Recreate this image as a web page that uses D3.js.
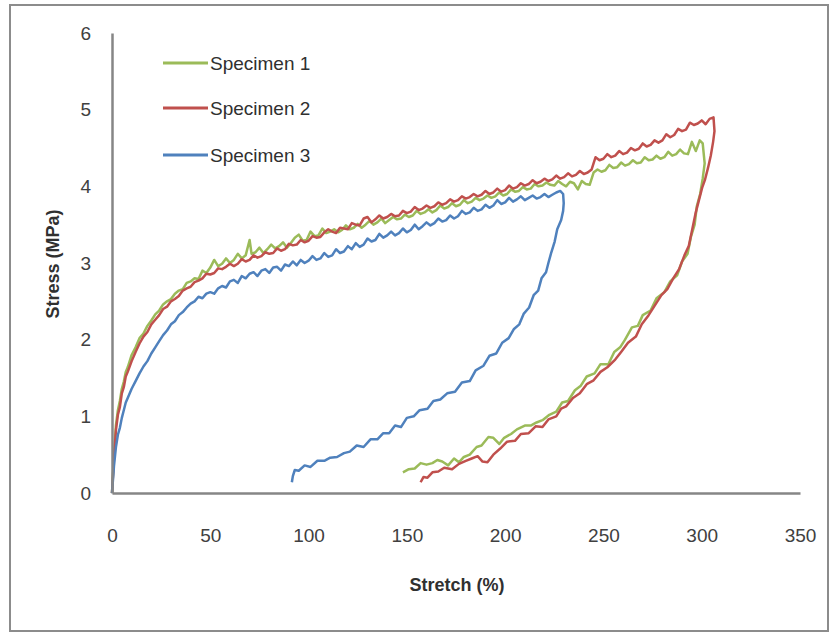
<!DOCTYPE html>
<html>
<head>
<meta charset="utf-8">
<script src="https://cdn.jsdelivr.net/npm/d3@7"></script>
<style>
  body { margin: 0; background: #fff; }
  svg { display: block; }
  .tick text { font-family: "Liberation Sans", Arial, sans-serif; font-size: 19px; fill: #404040; }
  .title { font-family: "Liberation Sans", Arial, sans-serif; font-size: 18px; font-weight: bold; fill: #303030; }
  .legend text { font-family: "Liberation Sans", Arial, sans-serif; font-size: 19px; fill: #303030; }
</style>
</head>
<body>
<svg></svg>
<script>
var width = 830,
    height = 634;

// tick labels
var xTicks = [0, 50, 100, 150, 200, 250, 300, 350];
var yTicks = [0, 1, 2, 3, 4, 5, 6];

var names = ["Specimen 1", "Specimen 2", "Specimen 3"];
var colors = ["#9bbb59", "#c0504d", "#4f81bd"];

// [stretch %, stress MPa]
var spec1Load = [[0,0],[1,0.5],[2,0.88],[3,1.08],[4,1.2],[5,1.36],[6,1.45],[7,1.58],[8,1.64],[10,1.8],[12,1.9],[14,2.02],
  [16,2.08],[18,2.18],[20,2.25],[22,2.33],[24,2.38],[26,2.46],[28,2.5],[30,2.53],[32,2.6],[34,2.64],[36,2.66],[38,2.74],
  [40,2.76],[42,2.8],[44,2.79],[46,2.9],[48,2.87],[50,2.94],[52,3.04],[54,2.96],[56,2.99],[58,3.06],[60,3.0],[62,3.04],
  [64,3.12],[66,3.06],[68,3.1],[70,3.3],[71,3.12],[73,3.14],[75,3.2],[77,3.13],[79,3.18],[81,3.24],[83,3.19],[85,3.22],
  [87,3.27],[89,3.2],[91,3.26],[93,3.33],[95,3.37],[97,3.29],[99,3.3],[101,3.41],[103,3.35],[105,3.36],[107,3.45],
  [109,3.39],[111,3.41],[113,3.44],[115,3.4],[117,3.43],[119,3.49],[121,3.44],[123,3.46],[125,3.51],[127,3.46],
  [129,3.5],[131,3.55],[133,3.5],[135,3.53],[137,3.58],[139,3.52],[141,3.56],[143,3.6],[145,3.57],[147,3.58],[149,3.63],
  [151,3.6],[153,3.62],[155,3.68],[157,3.64],[159,3.66],[161,3.7],[163,3.66],[165,3.69],[167,3.75],[169,3.71],[171,3.73],
  [173,3.78],[175,3.74],[177,3.76],[179,3.82],[181,3.78],[183,3.8],[185,3.85],[187,3.82],[189,3.84],[191,3.88],[193,3.85],
  [195,3.87],[197,3.92],[199,3.88],[201,3.9],[203,3.96],[205,3.93],[207,3.94],[209,3.99],[211,3.96],[213,3.97],
  [215,4.03],[217,4.0],[219,4.01],[221,4.05],[223,4.02],[225,4.01],[227,4.07],[229,4.03],[231,4.0],[233,4.06],
  [235,4.04],[237,3.96],[239,4.07],[241,4.03],[243,4.02],[245,4.18],[247,4.22],[249,4.19],[251,4.21],[253,4.28],
  [255,4.24],[257,4.25],[259,4.31],[261,4.27],[263,4.29],[265,4.34],[267,4.3],[269,4.31],[271,4.38],[273,4.34],
  [275,4.35],[277,4.4],[279,4.36],[281,4.38],[283,4.45],[285,4.4],[287,4.42],[289,4.48],[291,4.43],[293,4.42],
  [295,4.58],[297,4.46],[299,4.6],[300.5,4.56],[301.5,4.3]];
var spec1Unload = [[300.5,4.1],[299.2,3.9],[297.5,3.74],[296.4,3.5],[294.5,3.34],[292.8,3.12],[290,3.02],[287.5,2.84],
  [284,2.76],[281,2.62],[277,2.54],[274,2.38],[270,2.32],[267.5,2.18],[264.5,2.16],[261,2.0],[258.5,1.9],[255.5,1.84],
  [252.5,1.68],[248.5,1.68],[245.5,1.56],[241.5,1.52],[238.5,1.4],[235.5,1.34],[232,1.2],[229,1.18],[226,1.06],
  [222.5,1.02],[219,0.95],[216,0.92],[213,0.88],[210,0.88],[206,0.83],[203,0.77],[199.5,0.72],[197,0.64],[194,0.72],
  [191.5,0.73],[188,0.62],[185.5,0.6],[182,0.5],[179,0.47],[176.5,0.4],[174,0.45],[171,0.36],[168,0.41],[165.5,0.43],
  [163,0.39],[160,0.37],[157,0.39],[154,0.32],[151,0.31],[148,0.27]];

var spec2Load = [[0,0],[1,0.45],[2,0.82],[3,1.02],[4,1.12],[5,1.3],[6,1.38],[7,1.52],[8,1.58],[10,1.72],[12,1.84],
  [14,1.95],[16,2.04],[18,2.1],[20,2.2],[22,2.26],[24,2.32],[26,2.4],[28,2.43],[30,2.5],[32,2.53],[34,2.57],[36,2.64],
  [38,2.67],[40,2.69],[42,2.75],[44,2.77],[46,2.8],[48,2.86],[50,2.85],[52,2.87],[54,2.93],[56,2.92],[58,2.95],[60,2.99],
  [62,2.96],[64,2.99],[66,3.05],[68,3.02],[70,3.04],[72,3.1],[74,3.07],[76,3.09],[78,3.14],[80,3.12],[82,3.13],[84,3.19],
  [86,3.16],[88,3.18],[90,3.25],[92,3.23],[94,3.24],[96,3.3],[98,3.27],[100,3.29],[102,3.35],[104,3.33],[106,3.34],
  [108,3.4],[110,3.44],[112,3.41],[114,3.39],[116,3.46],[118,3.45],[120,3.44],[122,3.52],[124,3.5],[126,3.49],
  [128,3.58],[130,3.6],[132,3.53],[134,3.57],[136,3.62],[138,3.58],[140,3.6],[142,3.64],[144,3.61],[146,3.62],
  [148,3.68],[150,3.65],[152,3.67],[154,3.73],[156,3.69],[158,3.71],[160,3.75],[162,3.72],[164,3.74],[166,3.79],
  [168,3.76],[170,3.78],[172,3.83],[174,3.8],[176,3.82],[178,3.87],[180,3.84],[182,3.86],[184,3.9],[186,3.87],
  [188,3.89],[190,3.94],[192,3.9],[194,3.92],[196,3.97],[198,3.93],[200,3.95],[202,4.01],[204,3.97],[206,3.99],
  [208,4.04],[210,4.01],[212,4.03],[214,4.08],[216,4.04],[218,4.06],[220,4.1],[222,4.07],[224,4.09],[226,4.14],
  [228,4.1],[230,4.12],[232,4.17],[234,4.13],[236,4.15],[238,4.2],[240,4.16],[242,4.18],[244,4.22],[246,4.38],
  [248,4.34],[250,4.36],[252,4.42],[254,4.38],[256,4.4],[258,4.46],[260,4.42],[262,4.44],[264,4.5],[266,4.47],
  [268,4.49],[270,4.56],[272,4.52],[274,4.54],[276,4.6],[278,4.57],[280,4.6],[282,4.68],[284,4.64],[286,4.67],
  [288,4.75],[290,4.72],[292,4.74],[294,4.83],[296,4.8],[298,4.82],[300,4.86],[302,4.81],[304,4.88],[306,4.9]];
var spec2Unload = [[306.5,4.72],[305.8,4.58],[304.6,4.4],[303.2,4.24],[301.6,4.08],[300.2,3.98],[298.4,3.8],
  [296.8,3.64],[295.2,3.44],[293.4,3.22],[291.2,3.1],[288.5,2.92],[285.5,2.8],[282.5,2.66],[279.5,2.58],[276,2.44],
  [273,2.32],[269.5,2.2],[266.5,2.04],[262.5,1.96],[259,1.84],[256,1.74],[252,1.64],[248.5,1.58],[245,1.47],
  [241.5,1.42],[238,1.3],[234.5,1.24],[231,1.13],[228.5,1.1],[226,1.0],[222,0.96],[219,0.86],[215.5,0.87],[212,0.78],
  [208,0.77],[205,0.68],[201,0.67],[197.5,0.58],[194,0.5],[191,0.4],[188.5,0.41],[186,0.48],[183,0.45],[180,0.42],
  [176.5,0.38],[173,0.31],[169,0.33],[166,0.28],[163,0.27],[160.5,0.2],[158.5,0.21],[157,0.14]];

var spec3Load = [[0,0],[1,0.35],[2,0.6],[3,0.76],[4,0.85],[5,0.98],[6,1.08],[7,1.18],[8,1.24],[10,1.36],[12,1.46],
  [14,1.56],[16,1.65],[18,1.72],[20,1.82],[22,1.9],[24,1.98],[26,2.06],[28,2.12],[30,2.2],[32,2.24],[34,2.32],[36,2.36],
  [38,2.42],[40,2.47],[42,2.5],[44,2.56],[46,2.54],[48,2.6],[50,2.62],[52,2.6],[54,2.67],[56,2.7],[58,2.68],[60,2.76],
  [62,2.78],[64,2.74],[66,2.83],[68,2.8],[70,2.86],[72,2.88],[74,2.83],[76,2.9],[78,2.92],[80,2.87],[82,2.94],
  [84,2.95],[86,2.9],[88,2.98],[90,2.96],[92,3.02],[94,2.97],[96,3.04],[98,3.0],[100,3.03],[102,3.09],[104,3.04],
  [106,3.06],[108,3.13],[110,3.08],[112,3.1],[114,3.18],[116,3.13],[118,3.15],[120,3.22],[122,3.18],[124,3.26],
  [126,3.21],[128,3.24],[130,3.32],[132,3.28],[134,3.3],[136,3.38],[138,3.33],[140,3.36],[142,3.41],[144,3.36],
  [146,3.39],[148,3.45],[150,3.4],[152,3.43],[154,3.5],[156,3.44],[158,3.48],[160,3.53],[162,3.49],[164,3.52],
  [166,3.58],[168,3.54],[170,3.56],[172,3.62],[174,3.58],[176,3.61],[178,3.68],[180,3.64],[182,3.66],[184,3.72],
  [186,3.68],[188,3.7],[190,3.76],[192,3.72],[194,3.75],[196,3.82],[198,3.77],[200,3.79],[202,3.85],[204,3.8],
  [206,3.83],[208,3.87],[210,3.82],[212,3.85],[214,3.88],[216,3.84],[218,3.86],[220,3.9],[222,3.86],[224,3.89],
  [226,3.92],[228,3.94],[229.5,3.9]];
var spec3Unload = [[229.8,3.78],[229.5,3.68],[228.5,3.56],[226.5,3.44],[225.2,3.28],[223.5,3.14],[222,3.0],[220.8,2.88],
  [218.5,2.8],[216.8,2.64],[214.5,2.58],[212.2,2.42],[209.5,2.34],[207.2,2.2],[204.5,2.14],[201.8,2.02],[198.5,1.96],
  [195.5,1.82],[192,1.79],[189,1.66],[185,1.6],[182,1.46],[178,1.44],[174.5,1.32],[170.5,1.3],[167,1.22],[163.5,1.2],
  [160.5,1.1],[156.5,1.08],[153.5,1.0],[150,0.98],[147,0.86],[144,0.88],[141,0.78],[138,0.78],[135,0.7],[131.5,0.7],
  [128,0.6],[124.5,0.62],[121,0.54],[118,0.52],[114.5,0.47],[111,0.46],[108,0.42],[104.5,0.42],[101,0.34],[98,0.36],
  [95,0.29],[93,0.3],[92,0.22],[91.5,0.14]];

var series = [spec1Load.concat(spec1Unload), spec2Load.concat(spec2Unload), spec3Load.concat(spec3Unload)];

var svg = d3.select("svg").attr("width", width).attr("height", height);

// outer chart border
svg.append("rect")
    .attr("x", 10).attr("y", 5)
    .attr("width", 818).attr("height", 626)
    .attr("fill", "#fff")
    .attr("stroke", "#8c8c8c")
    .attr("stroke-width", 2);

var x = d3.scaleLinear().domain([0, 350]).range([112, 800]);
var y = d3.scaleLinear().domain([0, 6]).range([493, 33]);

var line = d3.line()
    .x(d => x(d[0]))
    .y(d => y(d[1]));

svg.append("g")
    .selectAll("path")
    .data(series)
    .join("path")
    .attr("d", line)
    .attr("fill", "none")
    .attr("stroke", (d, i) => colors[i])
    .attr("stroke-width", 2.5)
    .attr("stroke-linejoin", "round");

// axes drawn over the lines like Excel does
var xAxis = svg.append("g")
    .attr("transform", "translate(0," + y(0) + ")")
    .call(d3.axisBottom(x).tickValues(xTicks).tickSize(0).tickPadding(36));
var yAxis = svg.append("g")
    .attr("transform", "translate(" + x(0) + ",0)")
    .call(d3.axisLeft(y).tickValues(yTicks).tickFormat(d3.format("d")).tickSize(0).tickPadding(21));

[xAxis, yAxis].forEach(function(a) {
    a.select(".domain").attr("stroke", "#868686").attr("stroke-width", 2.5);
});

svg.append("text")
    .attr("class", "title")
    .attr("text-anchor", "middle")
    .attr("transform", "translate(59,264) rotate(-90)")
    .text("Stress (MPa)");

svg.append("text")
    .attr("class", "title")
    .attr("text-anchor", "middle")
    .attr("x", 457).attr("y", 591)
    .text("Stretch (%)");

var legend = svg.append("g").attr("class", "legend")
    .selectAll("g")
    .data(names)
    .join("g")
    .attr("transform", (d, i) => "translate(163," + [63, 108, 155][i] + ")");

legend.append("line")
    .attr("x1", 0).attr("x2", 45)
    .attr("stroke", (d, i) => colors[i])
    .attr("stroke-width", 3);

legend.append("text")
    .attr("x", 47).attr("dy", "0.35em")
    .text(d => d);
</script>
</body>
</html>
